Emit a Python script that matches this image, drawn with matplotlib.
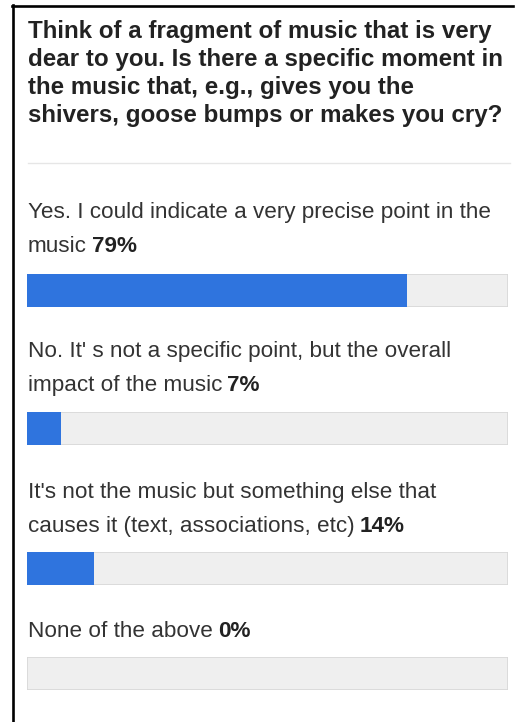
import matplotlib
matplotlib.use("Agg")
import matplotlib.pyplot as plt
from matplotlib.lines import Line2D

# poll question and answers
question = [
    "Think of a fragment of music that is very",
    "dear to you. Is there a specific moment in",
    "the music that, e.g., gives you the",
    "shivers, goose bumps or makes you cry?",
]
answers = [
    ["Yes. I could indicate a very precise point in the", "music"],
    ["No. It' s not a specific point, but the overall", "impact of the music"],
    ["It's not the music but something else that", "causes it (text, associations, etc)"],
    ["None of the above"],
]
percents = [79, 7, 14, 0]

W, H = 516, 722
BLUE = "#2f74de"
TRACK = "#efefef"
TRACK_EDGE = "#d8d8d8"

plt.rcParams['font.family'] = ['Liberation Sans', 'DejaVu Sans']

fig = plt.figure(figsize=(W / 100, H / 100), dpi=100)
fig.patch.set_facecolor("white")


def fx(x):
    return x / W


def fy(y):
    return 1 - y / H


# frame on left and top
fig.add_artist(Line2D([fx(13), fx(13)], [fy(5), fy(H)], color="black", lw=1.9))
fig.add_artist(Line2D([fx(12), fx(513)], [fy(6), fy(6)], color="black", lw=1.9))

# question title
for i, line in enumerate(question):
    fig.text(fx(28), fy(38 + i * 28), line, fontsize=17.4, fontweight="bold",
             color="#222222", va="baseline", ha="left")

# separator
fig.add_artist(Line2D([fx(28), fx(510)], [fy(163), fy(163)], color="#e6e6e6", lw=1.0))

renderer = fig.canvas.get_renderer()

text_tops = [218, 357, 498, 637]
bar_tops = [274, 412, 552, 657]
bar_left, bar_width, bar_height = 27, 481, 33

for lines, pct, ty, by in zip(answers, percents, text_tops, bar_tops):
    # answer text, percent in bold after the last line
    for j, line in enumerate(lines):
        t = fig.text(fx(28), fy(ty + j * 34), line, fontsize=16.2,
                     color="#333333", va="baseline", ha="left")
    ext = t.get_window_extent(renderer=renderer)
    fig.text(fx(ext.x1 + 5), fy(ty + (len(lines) - 1) * 34), f"{pct}%",
             fontsize=16.2, fontweight="bold", color="#222222",
             va="baseline", ha="left")

    # progress bar
    ax = fig.add_axes([fx(bar_left), fy(by + bar_height), bar_width / W, bar_height / H])
    ax.barh(0, 100, height=1, color=TRACK, edgecolor=TRACK_EDGE, linewidth=1.2)
    ax.barh(0, pct, height=1, color=BLUE, linewidth=0)
    ax.set_xlim(0, 100)
    ax.set_ylim(-0.5, 0.5)
    ax.axis("off")

fig.savefig("out.png", dpi=100)
